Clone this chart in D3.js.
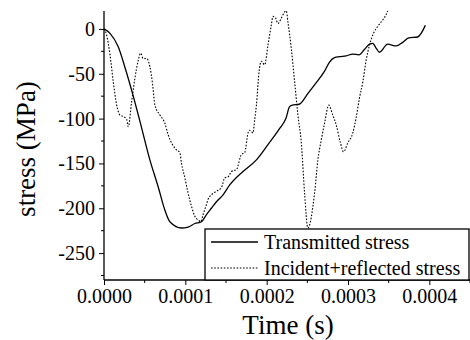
<!DOCTYPE html>
<html>
<head>
<meta charset="utf-8">
<script src="https://cdn.jsdelivr.net/npm/d3@7"></script>
<style>
  body { margin: 0; background: #fff; }
  svg text { font-family: "Liberation Serif", "Times New Roman", Times, serif !important; }
</style>
</head>
<body>
<div class="chart"></div>
<script>
// transmitted stress (solid)
const transTime = [0, 0.0000074, 0.0000175, 0.0000258, 0.000036, 0.0000442, 0.0000564, 0.0000666,
  0.0000748, 0.000081, 0.0000953, 0.0001034, 0.0001117, 0.0001199, 0.000126, 0.000132, 0.000138,
  0.0001464, 0.0001546, 0.0001709, 0.0001874, 0.0002016, 0.000216, 0.000224, 0.000228, 0.0002315,
  0.000240, 0.0002507, 0.000261, 0.0002712, 0.0002773, 0.0002834, 0.0002896, 0.0002978, 0.0003059,
  0.0003133, 0.0003202, 0.0003264, 0.0003304, 0.000335, 0.0003387, 0.0003488, 0.0003591, 0.0003672,
  0.0003746, 0.0003856, 0.0003951];
const transStress = [0, -5, -20, -43, -75, -103, -146, -176,
  -202, -215, -222, -221, -217, -215, -207, -200, -193,
  -185, -174, -159, -146, -129, -111, -99, -87, -85,
  -84, -72, -60, -47, -37, -32, -31, -30, -28,
  -29, -23, -17, -16, -22, -26, -17, -19, -15,
  -10, -9, 4];

// incident + reflected stress (dotted)
const incTime = [0, 0.0000033, 0.0000074, 0.0000114, 0.0000156, 0.0000196, 0.0000245, 0.0000279,
  0.0000298, 0.000034, 0.000038, 0.0000421, 0.000045, 0.0000482, 0.0000524, 0.0000564, 0.0000598,
  0.0000626, 0.0000687, 0.0000748, 0.0000789, 0.0000892, 0.0000933, 0.0000953, 0.0000994, 0.0001034,
  0.0001076, 0.0001117, 0.0001157, 0.000119, 0.0001218, 0.0001252, 0.000128, 0.0001321, 0.0001383,
  0.0001444, 0.0001485, 0.0001525, 0.0001567, 0.0001628, 0.000169, 0.000173, 0.0001771, 0.0001791,
  0.0001832, 0.0001853, 0.0001874, 0.0001906, 0.0001935, 0.0001975, 0.0002016, 0.0002058, 0.0002077,
  0.000211, 0.0002139, 0.000218, 0.0002221, 0.0002242, 0.0002261, 0.0002303, 0.0002344, 0.0002384,
  0.0002426, 0.0002466, 0.0002507, 0.0002589, 0.000263, 0.0002671, 0.0002712, 0.0002764, 0.0002813,
  0.0002855, 0.0002904, 0.0002945, 0.0002998, 0.0003059, 0.00031, 0.0003141, 0.0003182, 0.0003223,
  0.0003264, 0.0003313, 0.0003366, 0.0003427, 0.0003469, 0.0003488];
const incStress = [0, -7, -29, -59, -85, -96, -98, -101,
  -109, -81, -55, -35, -27, -33, -33, -42, -62,
  -85, -96, -105, -118, -135, -138, -150, -166, -183,
  -198, -209, -213, -215, -207, -198, -190, -185, -181,
  -177, -166, -165, -159, -157, -140, -138, -116, -113,
  -116, -101, -85, -48, -36, -40, -18, 5, 14,
  12, 6, 12, 19, 20, 8, -22, -59, -96,
  -127, -183, -222, -183, -146, -124, -105, -85, -96,
  -107, -126, -137, -127, -116, -99, -77, -59, -35,
  -18, -5, 3, 10, 16, 20];

const xTicks = [0, 0.0001, 0.0002, 0.0003, 0.0004];
const xMinor = [0.00005, 0.00015, 0.00025, 0.00035, 0.00045];
const yTicks = [0, -50, -100, -150, -200, -250];
const yMinor = [-25, -75, -125, -175, -225, -275];
const seriesNames = ["Transmitted stress", "Incident+reflected stress"];

const W = 470, H = 340;
const serif = "'Liberation Serif', 'Times New Roman', Times, serif";
const svg = d3.select(".chart").append("svg")
    .attr("width", W).attr("height", H)
    .style("display", "block");

const x = d3.scaleLinear().domain([0, 0.00045]).range([104, 470]);
const y = d3.scaleLinear().domain([-280, 20]).range([280, 11]);

// axes
const xAxis = svg.append("g")
    .attr("transform", "translate(0,280)")
    .call(d3.axisBottom(x).tickValues(xTicks).tickSize(5).tickPadding(4)
        .tickFormat(d => d.toFixed(4)));
xAxis.append("g").selectAll("line").data(xMinor).enter().append("line")
    .attr("x1", d => x(d)).attr("x2", d => x(d))
    .attr("y1", 0).attr("y2", 3).attr("stroke", "#000");

const yAxis = svg.append("g")
    .attr("transform", "translate(104,0)")
    .call(d3.axisLeft(y).tickValues(yTicks).tickSize(5).tickPadding(4)
        .tickFormat(d => String(d)));
yAxis.append("g").selectAll("line").data(yMinor).enter().append("line")
    .attr("y1", d => y(d)).attr("y2", d => y(d))
    .attr("x1", 0).attr("x2", -3).attr("stroke", "#000");

svg.selectAll("g").attr("font-family", null);
svg.selectAll(".domain").attr("stroke", "#000").attr("stroke-width", 1.3);
xAxis.select(".domain").attr("d", `M${x(0)},0H470`);
yAxis.select(".domain").attr("d", `M0,${y(-280)}V${y(20)}`);
svg.selectAll(".tick line").attr("stroke", "#000").attr("stroke-width", 1);
svg.selectAll(".tick text")
    .style("font-family", serif)
    .attr("font-size", 20).attr("fill", "#000");

// lines
const transData = transTime.map((t, i) => [t, transStress[i]]);
const incData = incTime.map((t, i) => [t, incStress[i]]);
const line = d3.line().x(d => x(d[0])).y(d => y(d[1])).curve(d3.curveMonotoneX);

svg.append("path").datum(incData)
    .attr("d", line)
    .attr("fill", "none").attr("stroke", "#000")
    .attr("stroke-width", 1.1).attr("stroke-dasharray", "1.6,1.6");

svg.append("path").datum(transData)
    .attr("d", line)
    .attr("fill", "none").attr("stroke", "#000")
    .attr("stroke-width", 1.3);

// legend
const legend = svg.append("g");
legend.append("rect")
    .attr("x", 205).attr("y", 229).attr("width", 264).attr("height", 51)
    .attr("fill", "#fff").attr("stroke", "#000").attr("stroke-width", 1.3);
const dashes = [null, "1.6,1.6"];
seriesNames.forEach((name, i) => {
    const ly = 242 + i * 26;
    legend.append("line")
        .attr("x1", 211).attr("x2", 258).attr("y1", ly).attr("y2", ly)
        .attr("stroke", "#000").attr("stroke-width", i ? 1.1 : 1.3)
        .attr("stroke-dasharray", dashes[i]);
    legend.append("text")
        .attr("x", 264).attr("y", ly + 6.5)
        .style("font-family", serif)
        .attr("font-size", 20).attr("fill", "#000")
        .text(name);
});

// axis titles
svg.append("text")
    .attr("x", 288).attr("y", 334)
    .attr("text-anchor", "middle")
    .style("font-family", serif)
    .attr("font-size", 27)
    .text("Time (s)");

svg.append("text")
    .attr("transform", "translate(35,149) rotate(-90)")
    .attr("text-anchor", "middle")
    .style("font-family", serif)
    .attr("font-size", 27)
    .text("stress (MPa)");
</script>
</body>
</html>
